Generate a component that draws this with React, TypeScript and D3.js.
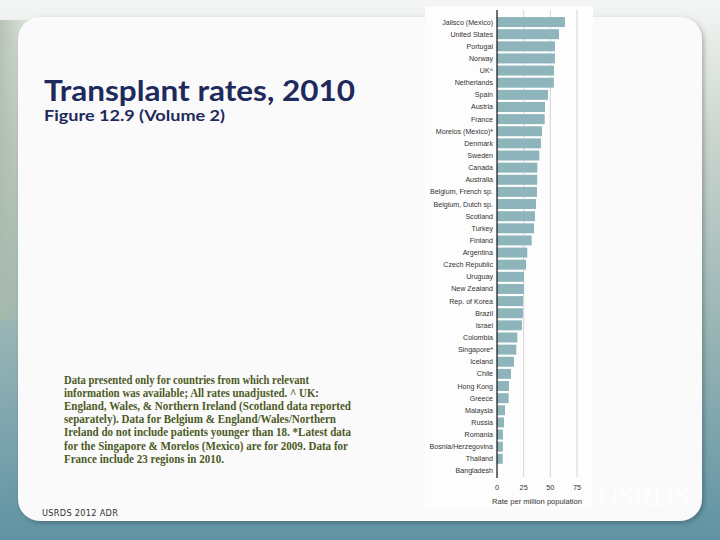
import React from 'react';
import * as d3 from 'd3';

// transplant rates per million population, 2010
const countries = [
  'Jalisco (Mexico)', 'United States', 'Portugal', 'Norway', 'UK^', 'Netherlands',
  'Spain', 'Austria', 'France', 'Morelos (Mexico)*', 'Denmark', 'Sweden', 'Canada',
  'Australia', 'Belgium, French sp.', 'Belgium, Dutch sp.', 'Scotland', 'Turkey',
  'Finland', 'Argentina', 'Czech Republic', 'Uruguay', 'New Zealand', 'Rep. of Korea',
  'Brazil', 'Israel', 'Colombia', 'Singapore*', 'Iceland', 'Chile', 'Hong Kong',
  'Greece', 'Malaysia', 'Russia', 'Romania', 'Bosnia/Herzegovina', 'Thailand', 'Bangladesh'
];
const rates = [
  63.7, 58.1, 54.4, 54.3, 53.4, 53.3,
  47.8, 45.0, 44.7, 42.2, 41.2, 39.7, 37.8,
  37.7, 37.5, 36.6, 35.6, 34.7,
  32.5, 28.4, 27.2, 25.3, 25.2, 24.4,
  24.3, 23.4, 19.1, 18.1, 15.9, 13.1, 11.2,
  10.9, 7.5, 6.6, 5.6, 5.5, 5.3, 0.1
];
const xTicks = [0, 25, 50, 75];

const noteLines = [
  'Data presented only for countries from which relevant',
  'information was available; All rates unadjusted. ^ UK:',
  'England, Wales, & Northern Ireland (Scotland data reported',
  'separately). Data for Belgium & England/Wales/Northern',
  'Ireland do not include patients younger than 18. *Latest data',
  'for the Singapore & Morelos (Mexico) are for 2009. Data for',
  'France include 23 regions in 2010.'
];
const noteWidths = [245, 255, 287, 272, 287, 284, 160];

export default function App() {
  const W = 720;
  const H = 540;

  // chart geometry
  const axisX = 497;
  const top = 14.9;
  const bottom = 478.1;

  const xScale = d3.scaleLinear().domain([0, 75]).range([axisX, axisX + 80]);
  const yScale = d3.scaleBand<string>().domain(countries).range([top, bottom]).padding(0.18);

  const labelFont = '"Liberation Sans Narrow", "Liberation Sans", sans-serif';

  const bars = countries.map((c, i) => (
    <rect
      key={c}
      x={xScale(0)}
      y={yScale(c)}
      width={xScale(rates[i]) - xScale(0)}
      height={yScale.bandwidth()}
      fill="#8db5bb"
    />
  ));

  const labels = countries.map(c => (
    <text
      key={c}
      x={axisX - 4}
      y={(yScale(c) || 0) + yScale.bandwidth() / 2}
      dy="0.35em"
      textAnchor="end"
      fontSize={7.1}
      fill="#333"
      fontFamily={labelFont}
    >
      {c}
    </text>
  ));

  return (
    <svg width={W} height={H} style={{ position: 'absolute', left: 0, top: 0 }}>
      <defs>
        <linearGradient id="bg" x1="0" y1="0" x2="0" y2="1">
          <stop offset="0" stopColor="#f4f6f4" />
          <stop offset="0.25" stopColor="#cbd5ce" />
          <stop offset="0.6" stopColor="#9ab6b6" />
          <stop offset="1" stopColor="#5f93a4" />
        </linearGradient>
        <linearGradient id="side" x1="0" y1="0" x2="1" y2="0">
          <stop offset="0" stopColor="#a9b9a8" stopOpacity="0.8" />
          <stop offset="1" stopColor="#a9b9a8" stopOpacity="0" />
        </linearGradient>
        <filter id="shadow" x="-5%" y="-5%" width="110%" height="110%">
          <feDropShadow dx="2" dy="2" stdDeviation="2.5" floodColor="#000" floodOpacity="0.25" />
        </filter>
      </defs>

      {/* background photo stand-in */}
      <rect x={0} y={0} width={W} height={H} fill="url(#bg)" />
      <rect x={0} y={20} width={40} height={300} fill="url(#side)" />

      {/* slide panel */}
      <rect x={18} y={17} width={684} height={504} rx={22} fill="#fafafa" filter="url(#shadow)" />

      {/* chart backdrop */}
      <rect x={425} y={6} width={168} height={504} fill="#fdfdfd" />

      {/* gridlines */}
      {xTicks.slice(1).map(t => (
        <line key={t} x1={xScale(t)} x2={xScale(t)} y1={10} y2={477} stroke="#d4d4d4" strokeWidth={1} />
      ))}

      {bars}
      {labels}

      <line x1={axisX} x2={axisX} y1={10} y2={478} stroke="#111" strokeWidth={1.2} />

      {xTicks.map(t => (
        <text key={t} x={xScale(t)} y={490} textAnchor="middle" fontSize={7.4} fill="#333" fontFamily={labelFont}>
          {t}
        </text>
      ))}
      <text x={537} y={504} textAnchor="middle" fontSize={7.6} fill="#333" fontFamily={labelFont}>
        Rate per million population
      </text>

      {/* watermark */}
      <text x={643} y={506} textAnchor="middle" fontSize={30} fill="#ffffff" fillOpacity={0.9}
        fontFamily='"Liberation Serif", serif' style={{ letterSpacing: '-1px' }}>
        USRDS
      </text>

      {/* titles */}
      <text x={44} y={101} fontSize={29} fontWeight={700} fill="#1f2a5c" fontFamily='Lato, "Open Sans", sans-serif'
        textLength={311} lengthAdjust="spacingAndGlyphs">
        Transplant rates, 2010
      </text>
      <text x={44} y={121} fontSize={15.5} fontWeight={700} fill="#1f2a5c" fontFamily='Lato, "Open Sans", sans-serif'
        textLength={181} lengthAdjust="spacingAndGlyphs">
        Figure 12.9 (Volume 2)
      </text>

      {/* notes */}
      {noteLines.map((line, i) => (
        <text
          key={i}
          x={64}
          y={384 + i * 13.1}
          fontSize={11.5}
          fontWeight={700}
          fill="#4d5a26"
          fontFamily='"Liberation Serif", "Times New Roman", serif'
          textLength={noteWidths[i]}
          lengthAdjust="spacingAndGlyphs"
        >
          {line}
        </text>
      ))}

      <text x={42} y={516} fontSize={8.2} fill="#333" fontFamily='"DejaVu Sans", sans-serif' style={{ letterSpacing: '0.3px' }}>
        USRDS 2012 ADR
      </text>
    </svg>
  );
}
